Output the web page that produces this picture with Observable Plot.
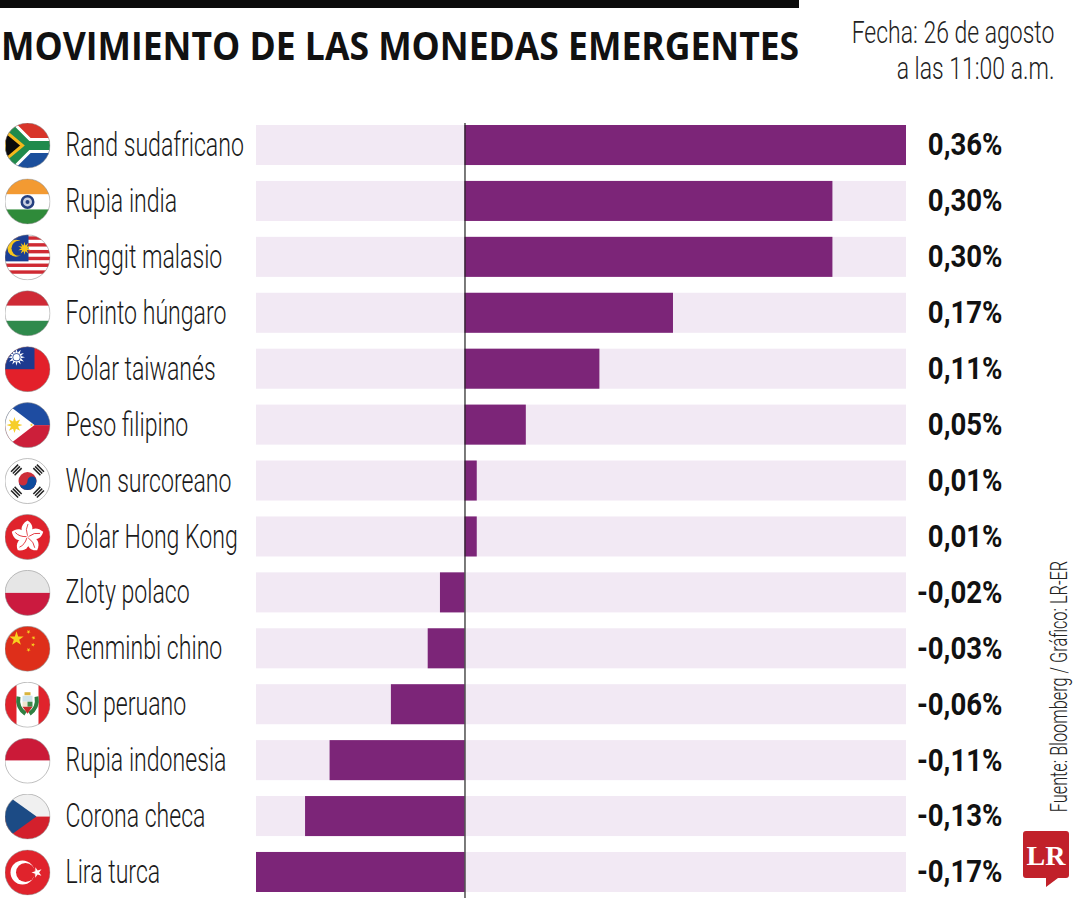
<!DOCTYPE html>
<html lang="es">
<head>
<meta charset="utf-8">
<script src="https://cdn.jsdelivr.net/npm/d3@7"></script>
<script src="https://cdn.jsdelivr.net/npm/@observablehq/plot@0.6"></script>
<style>
  html,body{margin:0;padding:0;background:#fff;}
  #page{position:relative;width:1080px;height:900px;overflow:hidden;font-family:Roboto,sans-serif;color:#1a1a1a;}
  #rule{position:absolute;left:0;top:0;width:799px;height:8px;background:#0b0b0b;}
  #title{position:absolute;left:1px;top:19px;margin:0;font:700 39px "Open Sans",sans-serif;white-space:nowrap;color:#111;transform-origin:left top;transform:scaleX(.91);line-height:52px;}
  #date{position:absolute;right:26px;top:14px;font-weight:300;font-size:32px;line-height:36px;text-align:right;color:#222;transform-origin:right top;transform:scaleX(.718);white-space:nowrap;}
  #source{position:absolute;left:1048px;bottom:88px;transform-origin:center bottom;transform:scaleY(.71);}
  #source span{display:block;font-weight:300;font-size:23px;line-height:24px;color:#222;white-space:nowrap;writing-mode:vertical-rl;transform:rotate(180deg);}
  #logo{position:absolute;left:1023px;top:831px;width:46px;height:57px;}
  #chart{position:absolute;left:0;top:110px;}
  #chart svg{display:block;}
</style>
</head>
<body>
<div id="page">
  <div id="rule"></div>
  <h1 id="title">MOVIMIENTO DE LAS MONEDAS EMERGENTES</h1>
  <div id="date">Fecha: 26 de agosto<br>a las 11:00 a.m.</div>
  <div id="chart"></div>
  <div id="source"><span>Fuente: Bloomberg / Gráfico: LR-ER</span></div>
  <svg id="logo" viewBox="0 0 46 57"><path d="M3 0H43a3 3 0 0 1 3 3V44a3 3 0 0 1-3 3H35L23 56V47H3a3 3 0 0 1-3-3V3a3 3 0 0 1 3-3Z" fill="#c1212a"/><text x="23" y="34" text-anchor="middle" font-family="Liberation Serif" font-weight="700" font-size="28" fill="#fff">LR</text></svg>
</div>
<script>
const currencies = ["Rand sudafricano","Rupia india","Ringgit malasio","Forinto húngaro","Dólar taiwanés","Peso filipino","Won surcoreano","Dólar Hong Kong","Zloty polaco","Renminbi chino","Sol peruano","Rupia indonesia","Corona checa","Lira turca"];
const changes = [0.36,0.30,0.30,0.17,0.11,0.05,0.01,0.01,-0.02,-0.03,-0.06,-0.11,-0.13,-0.17];
const flagCodes = ["za","in","my","hu","tw","ph","kr","hk","pl","cn","pe","id","cz","tr"];

function star(cx,cy,R,rot=0,r=R*0.382,n=5){
  let p=[];
  for(let i=0;i<2*n;i++){const a=rot-Math.PI/2+i*Math.PI/n,q=i%2?r:R;p.push((cx+q*Math.cos(a)).toFixed(2)+","+(cy+q*Math.sin(a)).toFixed(2));}
  return `<polygon points="${p.join(" ")}"/>`;
}
const R=(x,y,w,h,f)=>`<rect x="${x}" y="${y}" width="${w}" height="${h}" fill="${f}"/>`;
const tri=(a,bars)=>`<g transform="rotate(${a} 23 23)">${bars.map(y=>`<rect x="18" y="${y}" width="10" height="1.500" fill="#222"/>`).join("")}</g>`;
const flagArt = {
  za: R(0,0,46,23,"#d8352a")+R(0,23,46,23,"#1b4f9c")+`<path d="M0 0L23 23L0 46M23 23H46" fill="none" stroke="#fff" stroke-width="15"/><path d="M0 0L23 23L0 46M23 23H46" fill="none" stroke="#1f8a4c" stroke-width="9"/><path d="M0 8L18 23L0 38Z" fill="#0b0b0b" stroke="#f4b81c" stroke-width="3"/>`,
  in: R(0,0,46,16,"#f39a32")+R(0,16,46,15,"#fff")+R(0,31,46,15,"#2f8b3a")+`<circle cx="23" cy="23.500" r="7" fill="#26407f"/><circle cx="23" cy="23.500" r="4.500" fill="#c9cfe2"/><circle cx="23" cy="23.500" r="2" fill="#26407f"/>`,
  my: R(0,0,46,46,"#fff")+[0,1,2,3,4,5].map(i=>R(0,2+i*6.8,46,3.4,"#cf2a33")).join("")+R(0,0,24,27,"#1b3f94")+`<circle cx="11.500" cy="14" r="8.500" fill="#f6c61c"/><circle cx="14.500" cy="14" r="7.500" fill="#1b3f94"/><g fill="#f6c61c">${star(20,14,6.5,0,3,10)}</g>`,
  hu: R(0,0,46,15.5,"#cf2a36")+R(0,15.5,46,15,"#fff")+R(0,30.5,46,15.5,"#2f8a4c"),
  tw: R(0,0,46,46,"#e3202a")+R(0,0,30,23,"#1d3a8f")+`<g fill="#fff">${star(12,11,8.500,0,4.500,12)}</g><circle cx="12" cy="11" r="4" fill="#1d3a8f"/><circle cx="12" cy="11" r="3.200" fill="#fff"/>`,
  ph: R(0,0,46,23,"#1e4ca1")+R(0,23,46,23,"#cc1f3a")+`<path d="M0 0L30 23L0 46Z" fill="#fff"/><g fill="#f6ce2a">${star(10,23,8,0,3.800,8)}</g><g fill="#f6ce2a">${star(27,23,1.800)}</g>`,
  kr: R(0,0,46,46,"#fff")+`<circle cx="23" cy="23" r="9" fill="#cd2e3a"/><path d="M14 23a4.500 4.500 0 0 0 9 0a4.500 4.500 0 0 1 9 0a9 9 0 0 1-18 0Z" fill="#0f4a9c"/>`+tri(-45,[4,6.5,9])+tri(45,[4,6.5,9])+tri(135,[4,6.5,9])+tri(-135,[4,6.5,9]),
  hk: R(0,0,46,46,"#e0232c")+`<g>${[0,72,144,216,288].map(a=>`<g transform="rotate(${a} 23 23)"><path d="M23 23C15 19 15 11 23 6.500C29 10 30 17 23 23Z" fill="#fff"/><path d="M23 22Q20.500 15 23.500 10" fill="none" stroke="#e0232c" stroke-width=".8"/></g>`).join("")}</g>`,
  pl: R(0,0,46,23,"#e6e6e6")+R(0,23,46,23,"#cb1a3f"),
  cn: R(0,0,46,46,"#de2f1a")+`<g fill="#f8d21e">${star(12,13,7.500)}${star(24,6,2.200,.5)}${star(29,12,2.200,.9)}${star(28.500,19,2.200,.2)}${star(24,24,2.200,.6)}</g>`,
  pe: R(0,0,46,46,"#fff")+R(0,0,12,46,"#e0232c")+R(34,0,12,46,"#e0232c")+`<path d="M14 15q-2 11 7 17M32 15q2 11-7 17" fill="none" stroke="#2f7f42" stroke-width="4"/><rect x="18" y="14" width="10" height="6" fill="#cfe3ea"/><rect x="18" y="20" width="5" height="5" fill="#f0e6d0"/><rect x="23" y="20" width="5" height="5" fill="#3e8a4a"/><path d="M18 25h10l-5 7Z" fill="#c62b2b"/><rect x="20" y="10.500" width="6" height="3" fill="#d9b43c"/>`,
  id: R(0,0,46,23,"#cb1a38")+R(0,23,46,23,"#fff"),
  cz: R(0,0,46,23,"#f0f0f0")+R(0,23,46,23,"#d3202c")+`<path d="M0 0L32 23L0 46Z" fill="#1c4b85"/>`,
  tr: R(0,0,46,46,"#e0232c")+`<circle cx="18" cy="23" r="12" fill="#fff"/><circle cx="21" cy="23" r="9.500" fill="#e0232c"/><g fill="#fff">${star(32.500,23,5.500,-.3)}</g>`
};
function flagUri(code){
  const svg=`<svg xmlns="http://www.w3.org/2000/svg" viewBox="0 0 46 46"><defs><clipPath id="c"><circle cx="23" cy="23" r="22.500"/></clipPath></defs><g clip-path="url(#c)">${flagArt[code]}</g><circle cx="23" cy="23" r="22.500" fill="none" stroke="#8a8a8a" stroke-opacity=".55" stroke-width="1"/></svg>`;
  return "data:image/svg+xml;charset=utf-8,"+encodeURIComponent(svg);
}
const rows = currencies.map((name,i)=>({name,change:changes[i],code:flagCodes[i]}));
const label = v => v.toFixed(2).replace(".",",")+"%";
const domainX = [-0.17,0.36];

const plot = Plot.plot({
  width:1080, height:790,
  marginLeft:256, marginRight:174, marginTop:15, marginBottom:8,
  style:{background:"transparent",fontFamily:"Roboto,sans-serif"},
  x:{domain:domainX,axis:null},
  y:{domain:currencies,axis:null,paddingInner:0.284,paddingOuter:0,round:false},
  marks:[
    Plot.barX(rows,{x1:domainX[0],x2:domainX[1],y:"name",fill:"#f2e9f4"}),
    Plot.barX(rows,{x1:0,x2:"change",y:"name",fill:"#7c2578"}),
    Plot.ruleX([0],{stroke:"#222",strokeWidth:1.2,insetTop:-2,insetBottom:-6}),
    Plot.image(rows,{y:"name",frameAnchor:"left",dx:-229,width:46,height:46,src:d=>flagUri(d.code)}),
    Plot.text(rows,{y:"name",text:"name",frameAnchor:"left",dx:-191,textAnchor:"start",fontSize:33,fontWeight:300,fill:"#1a1a1a",className:"lbl"}),
    Plot.text(rows,{y:"name",text:d=>label(d.change),frameAnchor:"right",dx:96,textAnchor:"end",fontSize:31,fontWeight:700,fill:"#111",className:"val"})
  ]
});
document.getElementById("chart").append(plot);
// Condense the labels, since no condensed face is installed
function condense(selector,factor){
  plot.querySelectorAll(selector+" text").forEach(t=>{
    t.setAttribute("textLength",(t.getComputedTextLength()*factor).toFixed(1));
    t.setAttribute("lengthAdjust","spacingAndGlyphs");
  });
}
condense(".lbl",0.70);
condense(".val",0.89);
</script>
</body>
</html>
